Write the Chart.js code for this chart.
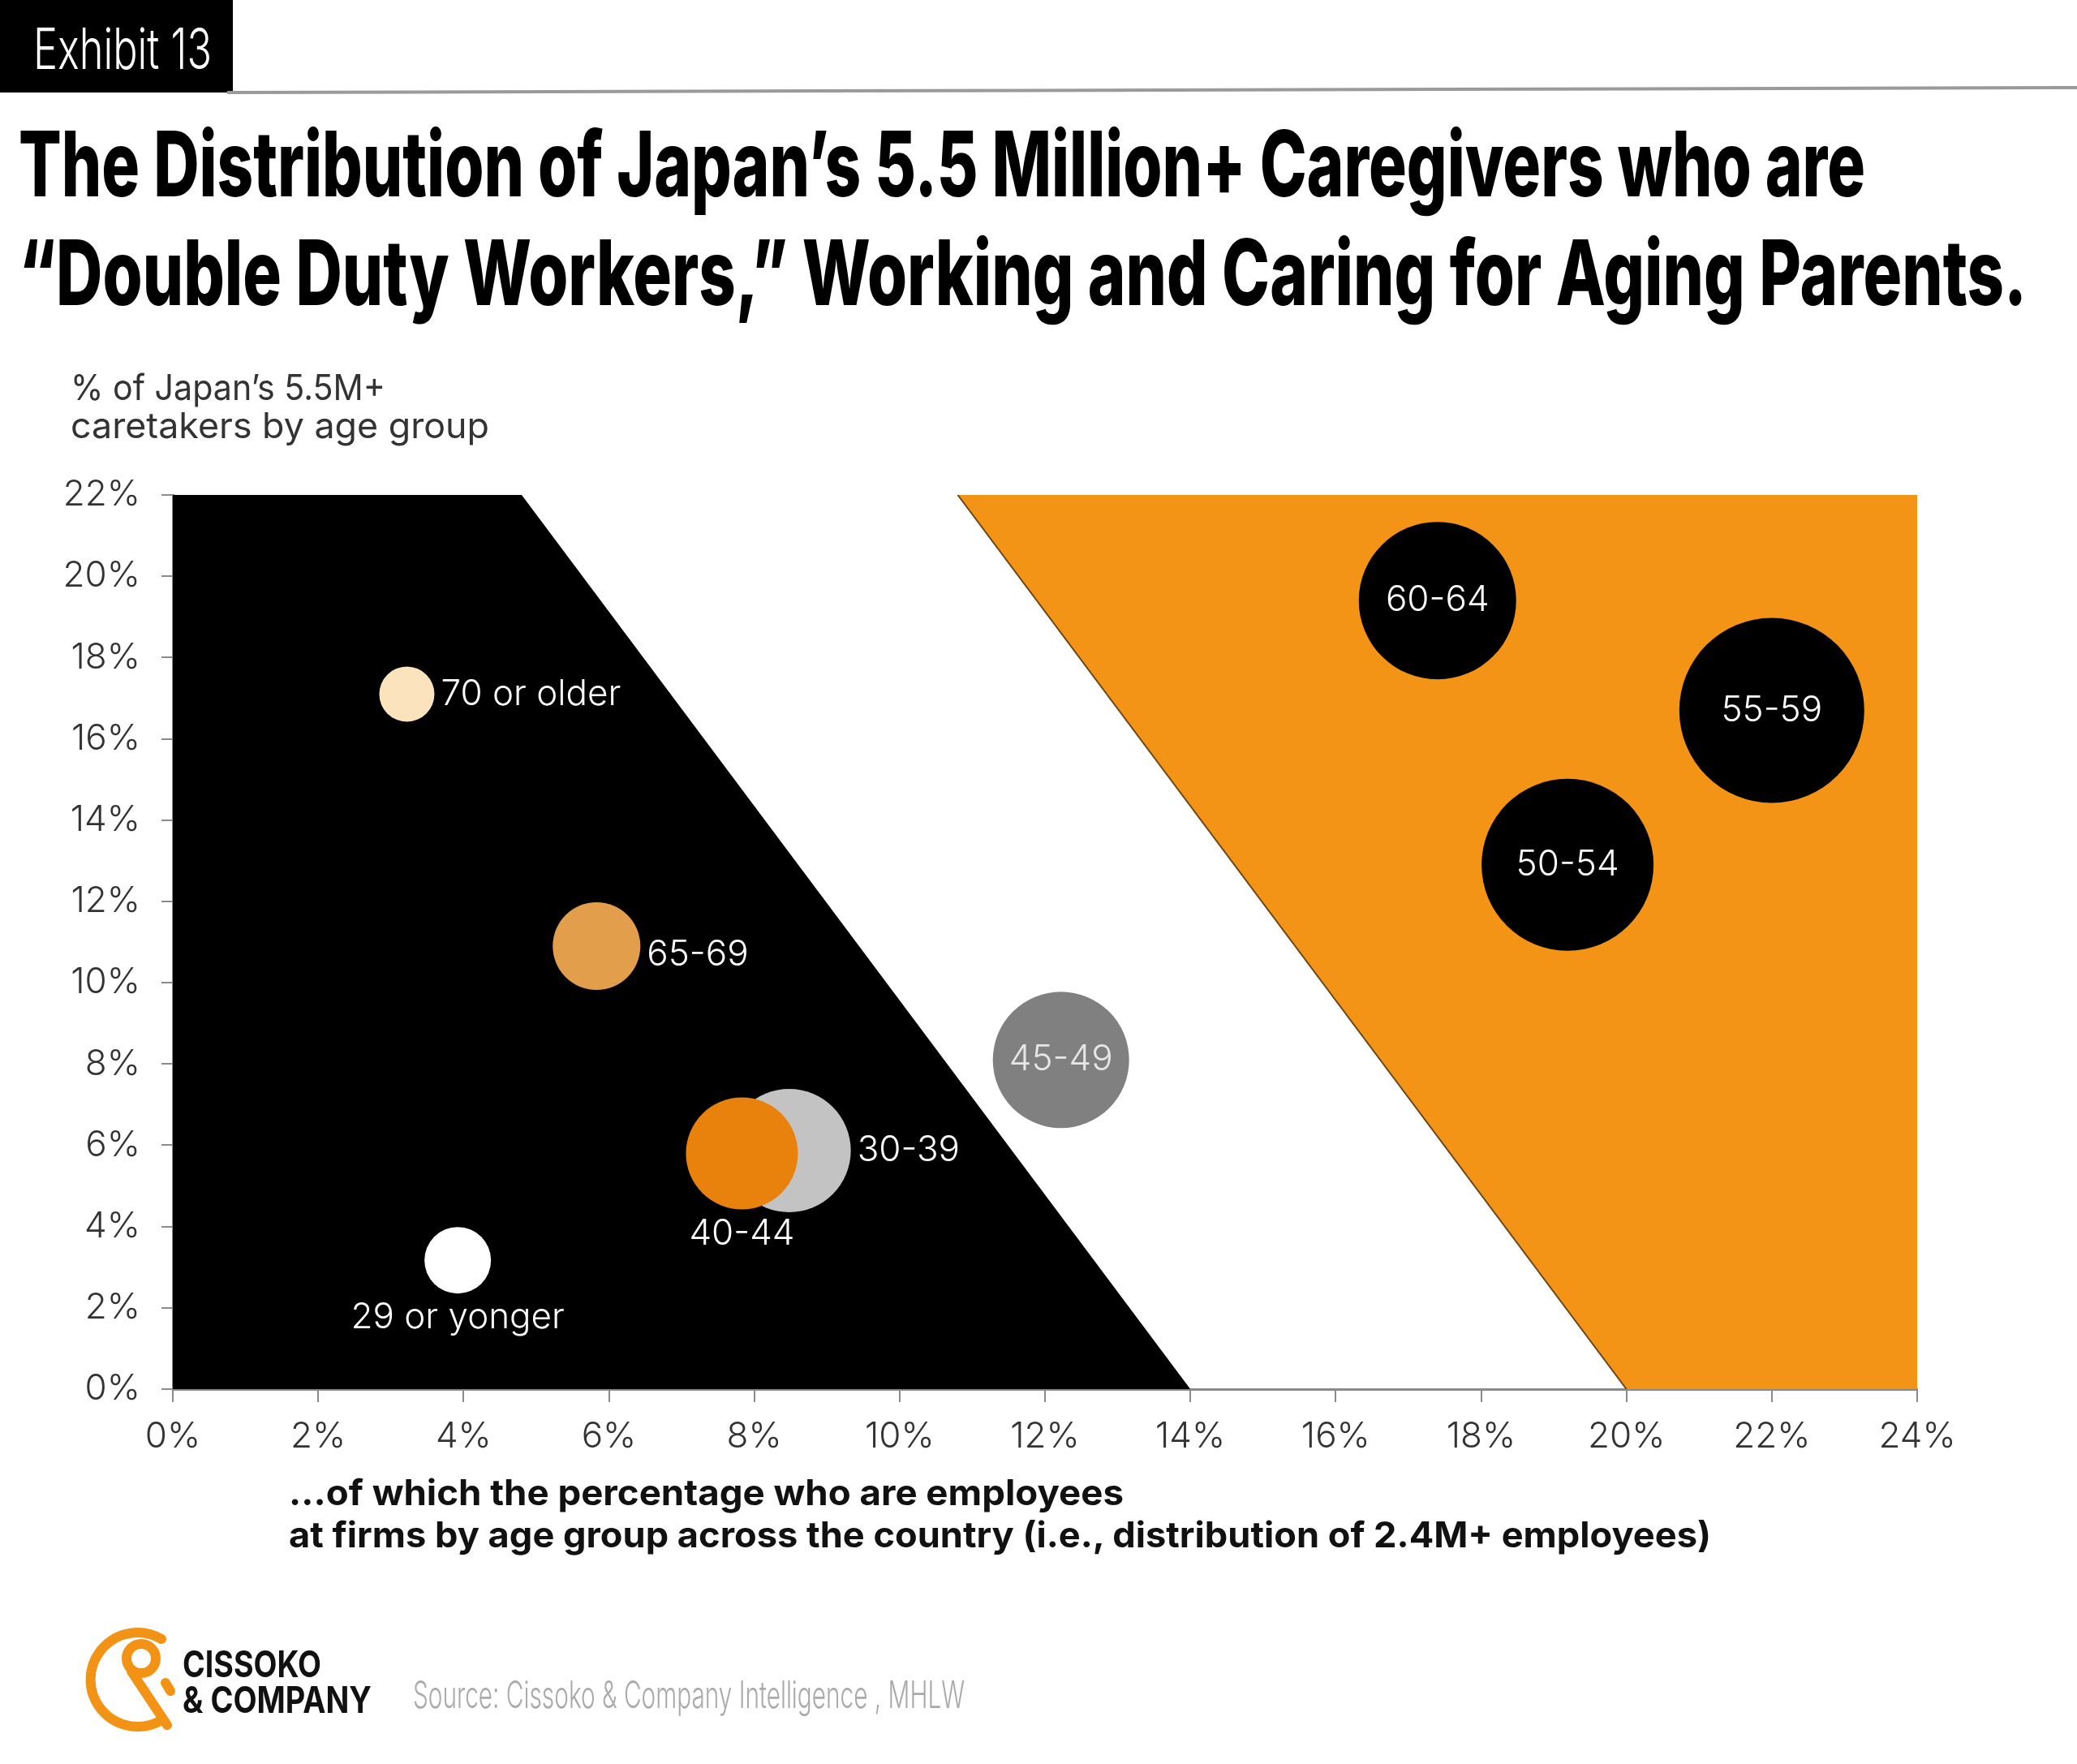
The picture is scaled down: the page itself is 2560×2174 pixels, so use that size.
<!DOCTYPE html>
<html lang="en">
<head>
  <meta charset="UTF-8">
  <title>Exhibit 13 - Double Duty Workers</title>
  <script src="https://cdn.jsdelivr.net/npm/chart.js@4.4.1/dist/chart.umd.min.js"></script>
  <style>
    body { margin: 0; background: #fff; width: 2560px; height: 2174px; overflow: hidden; position: relative; }
    .chart-wrap { position: absolute; left: 0; top: 0; width: 2560px; height: 2174px; }
    .t { position: absolute; white-space: nowrap; line-height: 1; transform-origin: 0 0; font-family: Inter, 'Open Sans', sans-serif; }
    .exhibit-box { position: absolute; left: 0; top: 0; width: 287px; height: 114px; background: #000; }
    svg { position: absolute; left: 0; top: 0; }
  </style>
</head>
<body>
  <div class="chart-wrap"><canvas id="bubbleChart"></canvas></div>
  <div class="exhibit-box"></div>
  <svg width="2560" height="2174">
    <line x1="280" y1="114" x2="2560" y2="108" stroke="#9a9a9a" stroke-width="4"/>
    <!-- logo mark -->
    <g transform="translate(100,2000)" fill="none" stroke="#f39316" stroke-width="12" stroke-linecap="round">
      <path d="M 99 20 A 58 58 0 1 0 99 120"/>
      <circle cx="74" cy="44" r="18"/>
      <path d="M 62 60 L 106 126"/>
      <path d="M 104 74 L 110 84"/>
    </g>
  </svg>

  <script>
    // data read from the exhibit
    const ageGroups = ['29 or yonger', '30-39', '40-44', '45-49', '50-54', '55-59', '60-64', '65-69', '70 or older'];
    const employeePct = [3.92, 8.48, 7.83, 12.22, 19.19, 22.0, 17.4, 5.83, 3.22];   // x
    const caretakerPct = [3.17, 5.87, 5.8, 8.1, 12.9, 16.7, 19.4, 10.9, 17.1];     // y
    const bubbleSize = [41, 76, 69, 84, 106, 114, 97, 54, 34];

    const xTickValues = [0, 2, 4, 6, 8, 10, 12, 14, 16, 18, 20, 22, 24];
    const yTickValues = [0, 2, 4, 6, 8, 10, 12, 14, 16, 18, 20, 22];

    // background zones (x%, y%)
    const lowZone = [[0, 0], [0, 22], [4.8, 22], [14, 0]];
    const highZone = [[10.8, 22], [24, 22], [24, 0], [20, 0]];

    const bubbleColors = ['#ffffff', '#c3c3c3', '#e8820c', '#808080', '#000000', '#000000', '#000000', '#e39e4b', '#fbe3be'];
    const labelPlace = ['below', 'right', 'below', 'center', 'center', 'center', 'center', 'right', 'right'];
    const labelNudgeY = [0, 0, 0, 0, 0, 0, 0, 11, 0];

    const FONT = "Inter, 'Open Sans', sans-serif";
    Chart.defaults.font.family = FONT;

    const toPts = arr => arr.map(p => ({ x: p[0], y: p[1] }));

    const bubbleLabels = {
      id: 'bubbleLabels',
      afterDatasetsDraw(chart) {
        const meta = chart.getDatasetMeta(3);
        const ctx = chart.ctx;
        ctx.save();
        ctx.font = '300 44px ' + FONT;
        ctx.textBaseline = 'middle';
        meta.data.forEach((pt, i) => {
          const r = pt.options.radius;
          let x = pt.x, y = pt.y + labelNudgeY[i];
          ctx.textAlign = 'center';
          if (labelPlace[i] === 'right') { x = pt.x + r + 8; ctx.textAlign = 'left'; }
          if (labelPlace[i] === 'below') { y = pt.y + r + 30; }
          ctx.fillStyle = i === 3 ? '#e6e6e6' : '#ffffff';
          ctx.fillText(ageGroups[i], x, y);
        });
        ctx.restore();
      }
    };

    const tickFont = { family: FONT, size: 44, weight: 300 };

    new Chart(document.getElementById('bubbleChart'), {
      type: 'bubble',
      data: {
        datasets: [{
          type: 'line',
          data: toPts(lowZone),
          fill: 'shape',
          backgroundColor: '#000',
          borderWidth: 0,
          pointRadius: 0,
          order: 5
        }, {
          type: 'line',
          data: toPts(highZone),
          fill: 'shape',
          backgroundColor: '#f49416',
          borderWidth: 0,
          pointRadius: 0,
          order: 4
        }, {
          type: 'line',
          data: toPts([highZone[0], highZone[3]]),
          fill: false,
          borderColor: '#6b4513',
          borderWidth: 2,
          pointRadius: 0,
          order: 3
        }, {
          label: 'Age groups',
          data: ageGroups.map((g, i) => ({ x: employeePct[i], y: caretakerPct[i], r: bubbleSize[i] })),
          backgroundColor: bubbleColors,
          borderWidth: 0,
          order: 1
        }]
      },
      options: {
        responsive: true,
        maintainAspectRatio: false,
        animation: false,
        layout: { padding: { left: 63, top: 610, right: 197, bottom: 362 } },
        plugins: { legend: { display: false }, tooltip: { enabled: false } },
        scales: {
          x: {
            type: 'linear', min: 0, max: 24,
            afterBuildTicks: s => { s.ticks = xTickValues.map(v => ({ value: v })); },
            afterFit: s => { s.height = 100; },
            grid: { drawOnChartArea: false, drawTicks: true, tickLength: 16, color: '#8a8a8a', lineWidth: 2 },
            border: { color: '#8a8a8a', width: 3 },
            ticks: { padding: 16, font: tickFont, color: '#333', maxRotation: 0, autoSkip: false, callback: v => v + '%' }
          },
          y: {
            type: 'linear', min: 0, max: 22,
            afterBuildTicks: s => { s.ticks = yTickValues.map(v => ({ value: v })); },
            afterFit: s => { s.width = 150; },
            grid: { drawOnChartArea: false, drawTicks: true, tickLength: 14, color: '#8a8a8a', lineWidth: 2 },
            border: { color: '#8a8a8a', width: 3 },
            ticks: { padding: 26, font: tickFont, color: '#333', autoSkip: false, callback: v => v + '%' }
          }
        }
      },
      plugins: [bubbleLabels]
    });

    // static texts: left, baseline, size, weight, colour, target width
    const texts = [
      ['Exhibit 13', 41, 85, 70, 300, '#fff', 220],
      ['The Distribution of Japan’s 5.5 Million+ Caregivers who are', 23, 242, 112, 800, '#000', 2276],
      ['“Double Duty Workers,” Working and Caring for Aging Parents.', 23, 376, 112, 800, '#000', 2475],
      ['% of Japan’s 5.5M+', 87, 493, 44, 400, '#333', 388],
      ['caretakers by age group', 87, 540, 44, 400, '#333', 516],
      ['…of which the percentage who are employees', 356, 1855, 44, 700, '#111', 1029],
      ['at firms by age group across the country (i.e., distribution of 2.4M+ employees)', 356, 1907, 44, 700, '#111', 1753],
      ['CISSOKO', 225, 2067, 45, 700, '#111', 171],
      ['& COMPANY', 225, 2111, 45, 700, '#111', 233],
      ['Source: Cissoko & Company Intelligence , MHLW', 509, 2105, 46, 300, '#aaa', 680]
    ];

    const mctx = document.createElement('canvas').getContext('2d');
    texts.forEach(([txt, left, base, size, weight, color, width]) => {
      const el = document.createElement('div');
      el.className = 't';
      el.textContent = txt;
      el.style.fontSize = size + 'px';
      el.style.fontWeight = weight;
      el.style.color = color;
      mctx.font = weight + ' ' + size + 'px ' + FONT;
      const m = mctx.measureText(txt);
      const A = m.fontBoundingBoxAscent, D = m.fontBoundingBoxDescent;
      el.style.left = left + 'px';
      el.style.top = (base - (size + A - D) / 2) + 'px';
      document.body.appendChild(el);
      const w = el.getBoundingClientRect().width;
      el.style.transform = 'scaleX(' + (width / w) + ')';
    });
  </script>
</body>
</html>
